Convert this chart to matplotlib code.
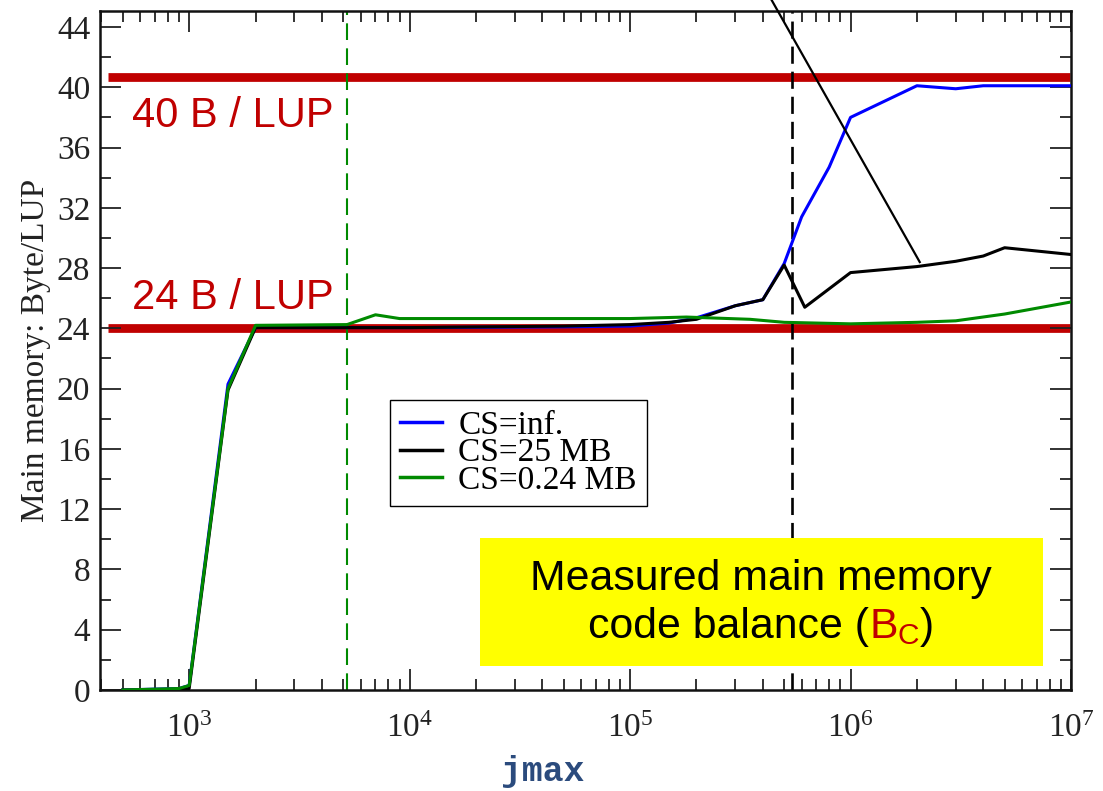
import matplotlib
matplotlib.use('Agg')
import matplotlib.pyplot as plt
from matplotlib.ticker import LogLocator, MultipleLocator, NullFormatter
from matplotlib.offsetbox import TextArea, HPacker, VPacker, AnnotationBbox
from matplotlib.patches import Rectangle

# ---------------- data ----------------
x_inf = [500, 900, 1000, 1500, 2000, 5000, 7000, 10000, 50000, 100000, 150000,
         200000, 300000, 400000, 500000, 600000, 800000, 1e6, 2e6, 3e6, 4e6, 1e7]
y_inf = [0.0, 0.1, 0.3, 20.3, 24.05, 24.05, 24.05, 24.05, 24.1, 24.15, 24.35,
         24.7, 25.5, 25.9, 28.3, 31.4, 34.7, 38.0, 40.1, 39.9, 40.1, 40.1]

x_25 = [500, 900, 1000, 1500, 2000, 5000, 10000, 50000, 100000, 150000,
        200000, 300000, 400000, 500000, 620000, 1e6, 2e6, 3e6, 4e6, 5e6, 1e7]
y_25 = [0.0, 0.0, 0.1, 19.9, 24.05, 24.05, 24.05, 24.15, 24.25, 24.4,
        24.6, 25.5, 25.9, 28.2, 25.4, 27.7, 28.1, 28.45, 28.8, 29.35, 28.9]

x_024 = [500, 900, 1000, 1500, 2000, 5200, 7000, 9000, 50000, 100000, 180000,
         350000, 500000, 1e6, 2e6, 3e6, 5e6, 1e7]
y_024 = [0.0, 0.1, 0.3, 20.0, 24.2, 24.25, 24.9, 24.65, 24.65, 24.65, 24.75,
         24.6, 24.4, 24.3, 24.4, 24.5, 24.95, 25.75]

series_labels = ['CS=inf.', 'CS=25 MB', 'CS=0.24 MB']
series_colors = ['#0000ff', '#000000', '#008a00']

balance_levels = [40.7, 24.0]
balance_texts = ['40 B / LUP', '24 B / LUP']
balance_span = [428, 9.9e6]

vline_green = 5200
vline_black = 540000

pointer_x = [4.38e5, 2.06e6]
pointer_y = [45.8, 28.4]

xlim = (394, 1e7)
ylim = (0, 45.08)
yticks = list(range(0, 45, 4))

RED = '#c00000'
SERIF = 'Liberation Serif'
SANS = 'Liberation Sans'

plt.rcParams['font.family'] = [SERIF, 'DejaVu Serif']
plt.rcParams['mathtext.default'] = 'regular'

W, H = 1103, 791
fig = plt.figure(figsize=(W / 100, H / 100), dpi=100)
ax = fig.add_axes([100 / W, 1 - 690 / H, 971 / W, 679.3 / H])

def fx(px):
    return px / W

def fy(py):
    return 1 - py / H

# horizontal balance lines
for lvl in balance_levels:
    ax.plot(balance_span, [lvl, lvl], color=RED, lw=6.3, solid_capstyle='butt', zorder=1)

# vertical dashed lines
ax.axvline(vline_green, color='#008a00', lw=1.5, ls=(0, (8, 4)), zorder=2)
ax.axvline(vline_black, color='black', lw=1.9, ls=(0, (6.5, 3)), zorder=2)

# curves
ax.plot(x_inf, y_inf, color=series_colors[0], lw=2.2, label=series_labels[0], zorder=3)
ax.plot(x_25, y_25, color=series_colors[1], lw=2.2, label=series_labels[1], zorder=4)
ax.plot(x_024, y_024, color=series_colors[2], lw=2.2, label=series_labels[2], zorder=5)

# pointer line
ax.plot(pointer_x, pointer_y, color='black', lw=1.6, clip_on=False, zorder=6)

ax.set_xscale('log')
ax.set_xlim(*xlim)
ax.set_ylim(*ylim)
ax.set_yticks(yticks)
ax.yaxis.set_minor_locator(MultipleLocator(2))
ax.xaxis.set_major_locator(LogLocator(base=10, numticks=20))
ax.xaxis.set_minor_locator(LogLocator(base=10, subs=range(2, 10), numticks=50))
ax.xaxis.set_minor_formatter(NullFormatter())

ax.tick_params(which='both', direction='in', top=True, right=True, width=1.3, colors='#222222')
ax.tick_params(which='major', length=15)
ax.tick_params(which='minor', length=8)
ax.tick_params(axis='y', which='major', labelsize=24, pad=7)
ax.tick_params(axis='x', which='major', labelsize=24, pad=17)
for lbl in ax.get_xticklabels() + ax.get_yticklabels():
    lbl.set_color('#222222')
for sp in ax.spines.values():
    sp.set_linewidth(1.8)
    sp.set_color('#111111')

ax.set_ylabel('Main memory: Byte/LUP', fontsize=24, labelpad=4, color='#222222')

# x label
fig.text(fx(543), fy(772), 'jmax', family='Liberation Mono', fontweight='bold',
         fontsize=25, color='#2b4b7d', ha='center', va='center')

# red balance annotations
for txt, base in zip(balance_texts, [127, 309]):
    fig.text(fx(132), fy(base), txt, family=SANS, fontsize=30, color=RED,
             ha='left', va='baseline', zorder=7)

# legend
leg = ax.legend(loc='upper left', bbox_to_anchor=((390 - 100) / 971, (690 - 400) / 679.3),
                fontsize=24, frameon=True, fancybox=False, framealpha=1,
                edgecolor='black', handlelength=1.25, handletextpad=0.5,
                labelspacing=-0.08, borderpad=0.3, borderaxespad=0)
leg.get_frame().set_linewidth(1.0)
for line in leg.get_lines():
    line.set_linewidth(2.5)

# yellow box
rect = Rectangle((fx(480), fy(666)), (1043 - 480) / W, (666 - 538) / H,
                 transform=fig.transFigure, facecolor='#ffff00', edgecolor='none', zorder=8)
fig.patches.append(rect)

tp = dict(family=SANS, fontsize=30.8, color='black')
line1 = TextArea('Measured main memory', textprops=tp)
p1 = TextArea('code balance (', textprops=tp)
p2 = TextArea(r'$\mathregular{B_C}$', textprops=dict(family=SANS, fontsize=30.8, color=RED))
p3 = TextArea(')', textprops=tp)
line2 = HPacker(children=[p1, p2, p3], align='baseline', pad=0, sep=0)
box = VPacker(children=[line1, line2], align='center', pad=0, sep=6)
ab = AnnotationBbox(box, (fx(761), fy(603)), xycoords='figure fraction',
                    box_alignment=(0.5, 0.5), frameon=False, zorder=9)
fig.add_artist(ab)

fig.savefig('out.png', dpi=100)
